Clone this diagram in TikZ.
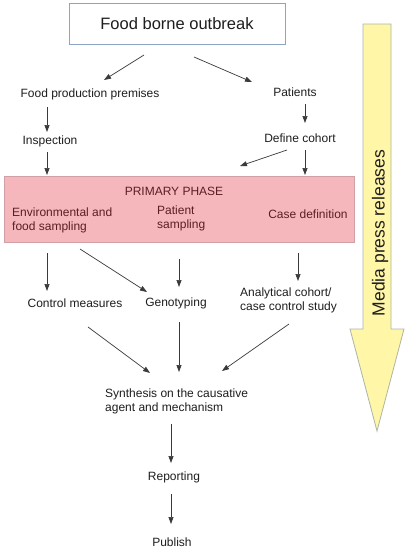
\documentclass[tikz,border=0pt]{standalone}
\usepackage{fontspec}
\setmainfont{Liberation Sans}
\usetikzlibrary{arrows.meta}
\definecolor{pinkfill}{HTML}{F5B7BC}
\definecolor{pinkdraw}{HTML}{CFA0A6}
\definecolor{maroon}{HTML}{5A1E24}
\definecolor{yelfill}{HTML}{FFF6A8}
\definecolor{yeldraw}{HTML}{ABB5A8}
\definecolor{boxdraw}{HTML}{8DA4C2}
\definecolor{ink}{HTML}{1E1E1E}
\definecolor{linec}{HTML}{3A3A3A}
\tikzset{
  lbl/.style={inner sep=0pt, text=ink, font=\fontsize{12}{14}\selectfont},
  lblp/.style={lbl, text=maroon},
  arr/.style={draw=linec, line width=0.7pt, -{Triangle[length=7pt,width=5pt]}},
}
\begin{document}
\begin{tikzpicture}[x=1pt,y=-1pt]
\useasboundingbox (0,0) rectangle (409,550);
\fill[white] (0,0) rectangle (409,550);

% yellow media arrow
\draw[fill=yelfill, draw=yeldraw, line width=0.8pt]
  (363,24) -- (391,24) -- (391,329) -- (404,329) -- (377,431) -- (350,329) -- (363,329) -- cycle;
\node[inner sep=0pt, text=ink, font=\fontsize{17.5}{20}\selectfont, rotate=90] (media) at (380,233) {Media press releases};

% title
\node[draw=boxdraw, line width=0.8pt, minimum width=216pt, minimum height=41pt, inner sep=0pt,
      text=ink, font=\fontsize{16.5}{19}\selectfont] (title) at (177,23.5) {\raisebox{-3pt}{Food borne outbreak}};

\node[lbl] (fpp) at (90,94) {Food production premises};
\node[lbl] (pat) at (295,92) {Patients};
\node[lbl] (insp) at (50,141) {Inspection};
\node[lbl] (def) at (300,138) {Define cohort};

% pink box
\node[draw=pinkdraw, fill=pinkfill, line width=0.8pt, minimum width=350pt, minimum height=66pt, inner sep=0pt] (pink) at (179,209) {};
\node[lblp] (pp) at (174,191) {PRIMARY PHASE};
\node[lblp, align=left, anchor=west] (env) at (12,220) {Environmental and\\food sampling};
\node[lblp, align=left, anchor=west] (psam) at (157,218.5) {Patient\\sampling};
\node[lblp] (cased) at (308,214) {Case definition};

\node[lbl] (ctrl) at (75,303) {Control measures};
\node[lbl] (geno) at (176,303) {Genotyping};
\node[lbl, align=left, anchor=west] (anal) at (240,300.5) {Analytical cohort/\\case control study};
\node[lbl, align=left, anchor=west] (synth) at (105,401) {Synthesis on the causative\\agent and mechanism};
\node[lbl] (rep) at (174,477) {Reporting};
\node[lbl] (pub) at (172,542) {Publish};

% connectors
\draw[arr] ([shift={(-33,31.5)}]title.center) -- ([shift={(14,-14)}]fpp.center);
\draw[arr] ([shift={(17,33.5)}]title.center) -- ([shift={(-43,-10)}]pat.center);
\draw[arr] ([shift={(10,12)}]pat.center) -- ([shift={(5,-15)}]def.center);
\draw[arr] ([shift={(-43,13)}]fpp.center) -- ([shift={(-3,-9)}]insp.center);
\draw[arr] ([shift={(-3,11)}]insp.center) -- ([shift={(-132,-34)}]pink.center);
\draw[arr] ([shift={(5,12)}]def.center) -- ([shift={(126,-34)}]pink.center);
\draw[arr] ([shift={(-13,12)}]def.center) -- ([shift={(61,-43)}]pink.center);

\draw[arr] ([shift={(-132,44)}]pink.center) -- ([shift={(-28,-12)}]ctrl.center);
\draw[arr] ([shift={(-99,40)}]pink.center) -- ([shift={(-29,-11)}]geno.center);
\draw[arr] ([shift={(0,50)}]pink.center) -- ([shift={(3,-16)}]geno.center);
\draw[arr] ([shift={(119,44)}]pink.center) -- ([shift={(58,-19.5)}]anal.west);

\draw[arr] ([shift={(13,24)}]ctrl.center) -- ([shift={(45,-28)}]synth.west);
\draw[arr] ([shift={(3,19)}]geno.center) -- ([shift={(74,-29)}]synth.west);
\draw[arr] ([shift={(49,23.5)}]anal.west) -- ([shift={(117,-30)}]synth.west);
\draw[arr] ([shift={(66,23)}]synth.west) -- ([shift={(-3,-14)}]rep.center);
\draw[arr] ([shift={(-3,17)}]rep.center) -- ([shift={(-1,-18)}]pub.center);
\end{tikzpicture}
\end{document}
